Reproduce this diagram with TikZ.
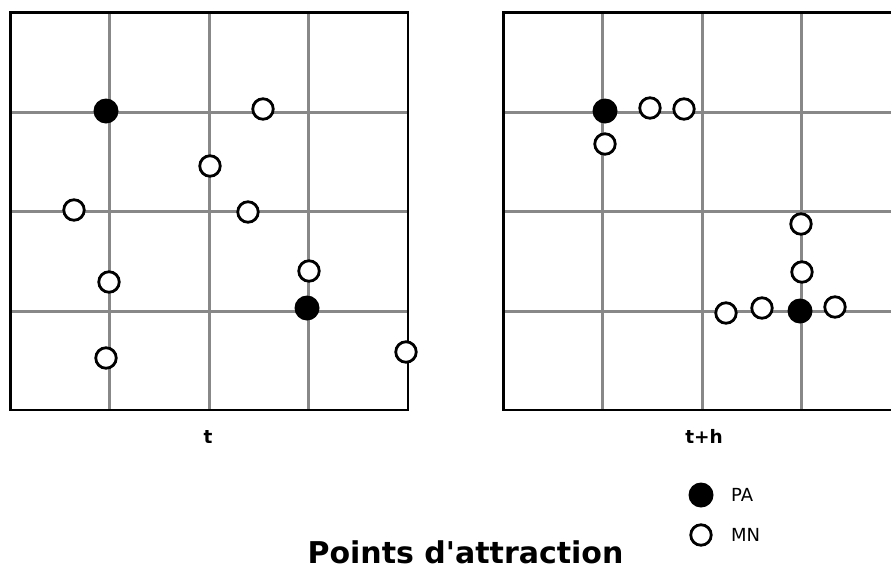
\documentclass[tikz,border=0pt]{standalone}
\usepackage{fontspec}
\setmainfont{DejaVu Sans}[Ligatures=TeXOff]
\definecolor{gridgray}{RGB}{136,136,136}
\begin{document}
\begin{tikzpicture}[x=1pt,y=-1pt,
  gridline/.style={draw=gridgray, line width=3pt},
  frame/.style={draw=black, line width=2.8pt},
  pa/.style={circle, fill=black, minimum size=25pt, inner sep=0pt},
  mn/.style={circle, draw=black, fill=white, line width=2.8pt, minimum size=20.5pt, inner sep=0pt},
  lbl/.style={font=\bfseries\fontsize{18.5}{22}\selectfont, inner sep=0pt},
  leg/.style={font=\fontsize{18}{21}\selectfont, anchor=west, inner sep=0pt}]
\useasboundingbox (0,0) rectangle (891,565);
\clip (0,0) rectangle (891,565);
% left grid
\foreach \v in {109.5,209.5,308.5} \draw[gridline] (\v,12.5) -- (\v,410);
\foreach \h in {112,211.5,311} \draw[gridline] (10.5,\h) -- (408,\h);
\draw[frame] (10.5,12.5) rectangle (408,410);
% right grid
\foreach \v in {602.5,702,801.5} \draw[gridline] (\v,12.5) -- (\v,410);
\foreach \h in {112,211.5,311} \draw[gridline] (503.5,\h) -- (900,\h);
\draw[frame] (503.5,12.5) rectangle (901,410);
% left points
\node[pa] (la1) at (106,111) {};
\node[pa] (la2) at (307,308) {};
\node[mn] (lm1) at (263,109) {};
\node[mn] (lm2) at (210,166) {};
\node[mn] (lm3) at (74,210) {};
\node[mn] (lm4) at (248,212) {};
\node[mn] (lm5) at (309,271) {};
\node[mn] (lm6) at (109,282) {};
\node[mn] (lm7) at (106,358) {};
\node[mn] (lm8) at (406,352) {};
% right points
\node[pa] (ra1) at (605,111) {};
\node[pa] (ra2) at (800,311) {};
\node[mn] (rm1) at (650,108) {};
\node[mn] (rm2) at (684,109) {};
\node[mn] (rm3) at (605,144) {};
\node[mn] (rm4) at (801,224) {};
\node[mn] (rm5) at (802,272) {};
\node[mn] (rm6) at (726,313) {};
\node[mn] (rm7) at (762,308) {};
\node[mn] (rm8) at (835,307) {};
% labels
\node[lbl, anchor=base] (tl) at (208,443.5) {t};
\node[lbl, anchor=base] (tr) at (704,443.5) {t+h};
% legend
\node[pa] (lgpa) at (701,495) {};
\node[mn] (lgmn) at (701,535) {};
\node[leg] (lgpat) at (731,495) {PA};
\node[leg] (lgmnt) at (731,535) {MN};
% title
\node[font=\bfseries\fontsize{30}{36}\selectfont, inner sep=0pt, text depth=0pt, anchor=base] (title) at (465.5,563.5) {Points d'attraction};
\end{tikzpicture}
\end{document}
